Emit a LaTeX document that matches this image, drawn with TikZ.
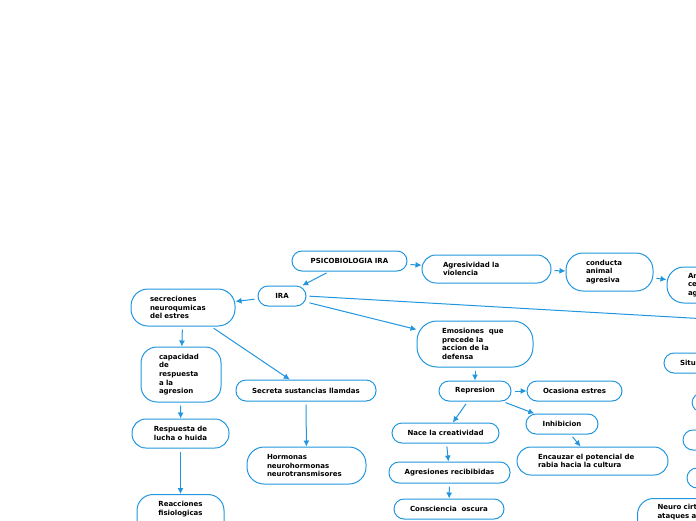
\documentclass[tikz,border=0pt]{standalone}
\usepackage{fontspec}
\setmainfont{DejaVu Sans}
\usepackage{tikz}
\usetikzlibrary{arrows.meta}
\definecolor{mapblue}{RGB}{33,150,222}
\tikzset{>={Latex[length=6pt,width=6pt]}}
\tikzset{
    mapbox/.style={draw=mapblue, line width=1pt, rounded corners=#1, inner sep=0pt,
        font=\fontsize{7.0}{8.7}\selectfont\bfseries, text=black},
    mapbox/.default=10pt,
    link/.style={->, draw=mapblue, line width=1pt, shorten <=3pt},
}

\begin{document}
\begin{tikzpicture}[x=1pt, y=-1pt]
    \useasboundingbox (0,0) rectangle (696,520);
    \clip (0,0) rectangle (696,520);

    % Top row
    \node[mapbox, minimum width=115pt, minimum height=20pt] (psico) at (349.5,261) {PSICOBIOLOGIA IRA};
    \node[mapbox=14pt, minimum width=129pt, minimum height=28pt, text width=87pt, align=left] (agres) at (486.5,269) {Agresividad la\\violencia};
    \node[mapbox=17pt, minimum width=87pt, minimum height=38pt, text width=47pt, align=left] (conducta) at (609.5,272) {conducta\\animal\\agresiva};
    \node[mapbox=17pt, minimum width=80pt, minimum height=36pt, text width=38pt, align=left] (ante) at (707,285) {An\\ce\\ag};

    % Left branch
    \node[mapbox, minimum width=48pt, minimum height=20pt] (ira) at (282,296) {IRA};
    \node[mapbox=17pt, minimum width=104pt, minimum height=37pt, text width=66pt, align=left] (secrec) at (183,307.5) {secreciones\\neuroqumicas\\del estres};
    \node[mapbox=16pt, minimum width=80pt, minimum height=55pt, text width=44pt, align=left] (capac) at (181,374.5) {capacidad\\de\\respuesta\\a la\\agresion};
    \node[mapbox, minimum width=140pt, minimum height=21pt] (secreta) at (306,390.5) {Secreta sustancias llamdas};
    \node[mapbox=14pt, minimum width=97pt, minimum height=29pt, align=center] (lucha) at (180.5,433.5) {Respuesta de\\lucha o huida};
    \node[mapbox=17pt, minimum width=119pt, minimum height=37pt, text width=79pt, align=left] (hormon) at (306.5,465.5) {Hormonas\\neurohormonas\\neurotransmisores};
    \node[mapbox=16pt, minimum width=87pt, text height=20.7pt, text depth=30pt, align=center, anchor=north] (reacc) at (180.5,494) {Reacciones\\fisiologicas};

    % Middle branch
    \node[mapbox=20pt, minimum width=116pt, minimum height=46pt, text width=66pt, align=left] (emoc) at (475,344) {Emosiones~ que\\precede la\\accion de la\\defensa};
    \node[mapbox, minimum width=72pt, minimum height=20pt] (repres) at (475,391) {Represion};
    \node[mapbox, minimum width=95pt, minimum height=20pt] (ocasiona) at (574.5,391) {Ocasiona estres};
    \node[mapbox, minimum width=107pt, minimum height=20pt] (creat) at (445.5,433) {Nace la creatividad};
    \node[mapbox, minimum width=72pt, minimum height=20pt] (inhib) at (562,424) {Inhibicion};
    \node[mapbox=14pt, minimum width=151pt, minimum height=28pt, text width=109pt, align=left] (encauz) at (592.5,461) {Encauzar el potencial de\\rabia hacia la cultura};
    \node[mapbox, minimum width=121pt, minimum height=21pt] (agrerec) at (449.5,472.5) {Agresiones recibibidas};
    \node[mapbox, minimum width=110pt, minimum height=20pt] (oscura) at (449,509) {Consciencia~ oscura};

    % Right edge
    \node[mapbox, minimum width=90pt, minimum height=20pt, text width=58pt, align=left] (situ) at (709,363) {Situ};
    \node[mapbox, minimum width=60pt, minimum height=19pt] (dere1) at (722,402.5) {};
    \node[mapbox, minimum width=60pt, minimum height=20pt] (dere2) at (713,440) {};
    \node[mapbox, minimum width=60pt, minimum height=20pt] (dere3) at (717,478) {};
    \node[mapbox=16pt, minimum width=100pt, text height=11pt, text depth=30pt, text width=60pt, align=left, anchor=north west] (neuro) at (637,498) {Neuro cirt\\ataques a};
    \coordinate (fuera) at (760,322);

    % Links
    \draw[link] (psico) -- (ira);
    \draw[link] (psico) -- (agres);
    \draw[link] (agres) -- (conducta);
    \draw[link] (conducta) -- (ante);
    \draw[link] (ira) -- (secrec);
    \draw[link] (ira) -- (emoc);
    \draw[link] (ira.east) -- (fuera);
    \draw[link] (secrec) -- (capac);
    \draw[link] (secrec) -- (secreta);
    \draw[link] (capac) -- (lucha);
    \draw[link] (lucha) -- (reacc);
    \draw[link] (secreta) -- (hormon);
    \draw[link] (emoc) -- (repres);
    \draw[link] (repres) -- (ocasiona);
    \draw[link] (repres) -- (creat);
    \draw[link] (repres) -- (inhib);
    \draw[link] (creat) -- (agrerec);
    \draw[link] (inhib) -- (encauz);
    \draw[link] (agrerec) -- (oscura);
\end{tikzpicture}
\end{document}
